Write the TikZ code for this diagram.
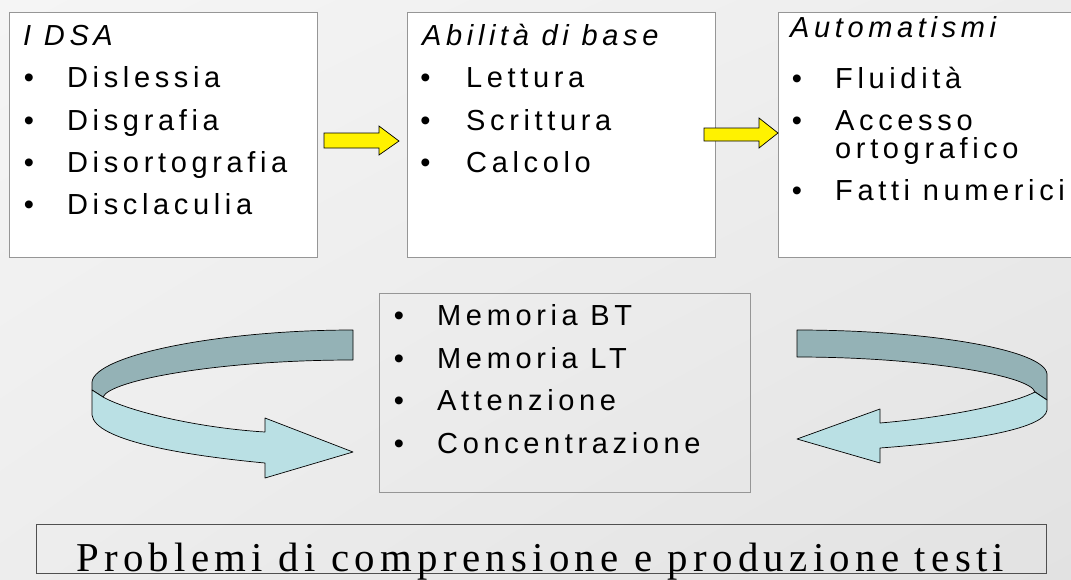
\documentclass[tikz,border=0pt]{standalone}
\usepackage{fontspec}
\usepackage{graphicx}
\usetikzlibrary{shadings}
\setmainfont{Liberation Sans}
\newfontfamily\itemfont[LetterSpace=16]{Liberation Sans}
\newfontfamily\plainsans{Liberation Sans}
\newfontfamily\serifwide[LetterSpace=13]{Liberation Serif}
\definecolor{ribbondark}{RGB}{148,178,182}
\definecolor{ribbonlight}{RGB}{186,224,228}
\definecolor{boxline}{RGB}{150,150,150}
\definecolor{bottomline}{RGB}{80,80,80}
\definecolor{bgA}{RGB}{245,245,245}
\definecolor{bgB}{RGB}{237,237,237}
\definecolor{bgC}{RGB}{226,226,226}
\tikzset{
  itemtxt/.style={anchor=base west, inner sep=0pt, font=\itemfont\fontsize{29}{34}\selectfont},
  headtxt/.style={anchor=base west, inner sep=0pt, font=\itemfont\itshape\fontsize{29}{34}\selectfont},
  bul/.style={anchor=base, inner sep=0pt, font=\plainsans\fontsize{29}{34}\selectfont},
  panel/.style={draw=boxline, fill=white, line width=0.9pt, inner sep=0pt, anchor=north west},
  framebox/.style={draw=boxline, line width=0.9pt, inner sep=0pt, anchor=north west},
  yarrow/.style={draw=black, fill=yellow, line width=0.7pt, line join=miter},
  ribbon/.style={draw=black, line width=0.7pt, line join=round}
}
\begin{document}
\begin{tikzpicture}[x=1pt,y=-1pt]
\useasboundingbox (0,0) rectangle (1071,579);
\shade[upper left=bgA, upper right=bgB, lower left=bgB, lower right=bgC] (0,0) rectangle (1071,579);

% top boxes
\node[panel, minimum width=308pt, minimum height=245pt] (b1) at (9,12) {};
\node[panel, minimum width=308pt, minimum height=245pt] (b2) at (407,12) {};
\node[panel, minimum width=310pt, minimum height=245pt] (b3) at (778,12) {};

% box 1 text
\node[headtxt] (h1) at (23,45) {I DSA};
\node[bul] (p11) at (29,87) {•};   \node[itemtxt] (t11) at (67,87) {Dislessia};
\node[bul] (p12) at (29,130) {•};    \node[itemtxt] (t12) at (67,130) {Disgrafia};
\node[bul] (p13) at (29,172.5) {•};  \node[itemtxt] (t13) at (67,172.5) {Disortografia};
\node[bul] (p14) at (29,214) {•};    \node[itemtxt] (t14) at (67,214) {Disclaculia};

% box 2 text
\node[headtxt] (h2) at (422,45) {Abilità di base};
\node[bul] (p21) at (425.5,87) {•};  \node[itemtxt] (t21) at (466,87) {Lettura};
\node[bul] (p22) at (425.5,130) {•};   \node[itemtxt] (t22) at (466,130) {Scrittura};
\node[bul] (p23) at (425.5,172.5) {•}; \node[itemtxt] (t23) at (466,172.5) {Calcolo};

% box 3 text
\node[headtxt] (h3) at (790,37) {Automatismi};
\node[bul] (p31) at (797,88) {•};   \node[itemtxt] (t31) at (835,88) {Fluidità};
\node[bul] (p32) at (797,130) {•};  \node[itemtxt] (t32) at (835,130) {Accesso};
\node[itemtxt] (t32b) at (835,158) {ortografico};
\node[bul] (p33) at (797,200) {•};  \node[itemtxt] (t33) at (835,200) {Fatti numerici};

% yellow block arrows
\coordinate (ya1) at (324,133);
\draw[yarrow] (ya1) -- (379,133) -- (379,126) -- (399,141) -- (379,155) -- (379,148) -- (324,148) -- cycle;
\coordinate (ya2) at (704,128);
\draw[yarrow] (ya2) -- (759,128) -- (759,118) -- (778,133) -- (759,148) -- (759,141) -- (704,141) -- cycle;

% middle box
\node[framebox, minimum width=371pt, minimum height=199pt] (mid) at (379,293) {};
\node[bul] (pm1) at (399,325) {•};   \node[itemtxt] (tm1) at (437,325) {Memoria BT};
\node[bul] (pm2) at (399,368.5) {•}; \node[itemtxt] (tm2) at (437,368.5) {Memoria LT};
\node[bul] (pm3) at (399,410.5) {•}; \node[itemtxt] (tm3) at (437,410.5) {Attenzione};
\node[bul] (pm4) at (399,453) {•};   \node[itemtxt] (tm4) at (437,453) {Concentrazione};

% left ribbon arrow
\draw[ribbon, fill=ribbondark] (353,330) .. controls (220,330) and (95,355) .. (92,382)
  -- (92,390) -- (103,397) .. controls (110,380) and (220,360) .. (353,360) -- cycle;
\draw[ribbon, fill=ribbonlight] (92,390) -- (103,397) .. controls (130,412) and (200,428) .. (265,432)
  -- (265,418) -- (353,452) -- (265,478) -- (265,463) .. controls (180,455) and (95,440) .. (92,415) -- cycle;

% right ribbon arrow
\draw[ribbon, fill=ribbondark] (797,330) .. controls (930,330) and (1045,350) .. (1047,374)
  -- (1047,400) -- (1035,392) .. controls (1030,375) and (920,357) .. (797,357) -- cycle;
\draw[ribbon, fill=ribbonlight] (1047,400) -- (1035,392) .. controls (1010,405) and (940,418) .. (880,423)
  -- (880,409) -- (797,439) -- (880,463) -- (880,448) .. controls (960,442) and (1045,430) .. (1047,410) -- cycle;

% bottom box
\node[draw=bottomline, line width=1.1pt, inner sep=0pt, anchor=north west,
      minimum width=1010pt, minimum height=49pt] (bot) at (36,524) {};
\node[anchor=base west, inner sep=0pt] (bt) at (76,571)
  {\resizebox{928pt}{\height}{\serifwide\fontsize{41}{45}\selectfont Problemi di comprensione e produzione testi}};
\end{tikzpicture}
\end{document}
